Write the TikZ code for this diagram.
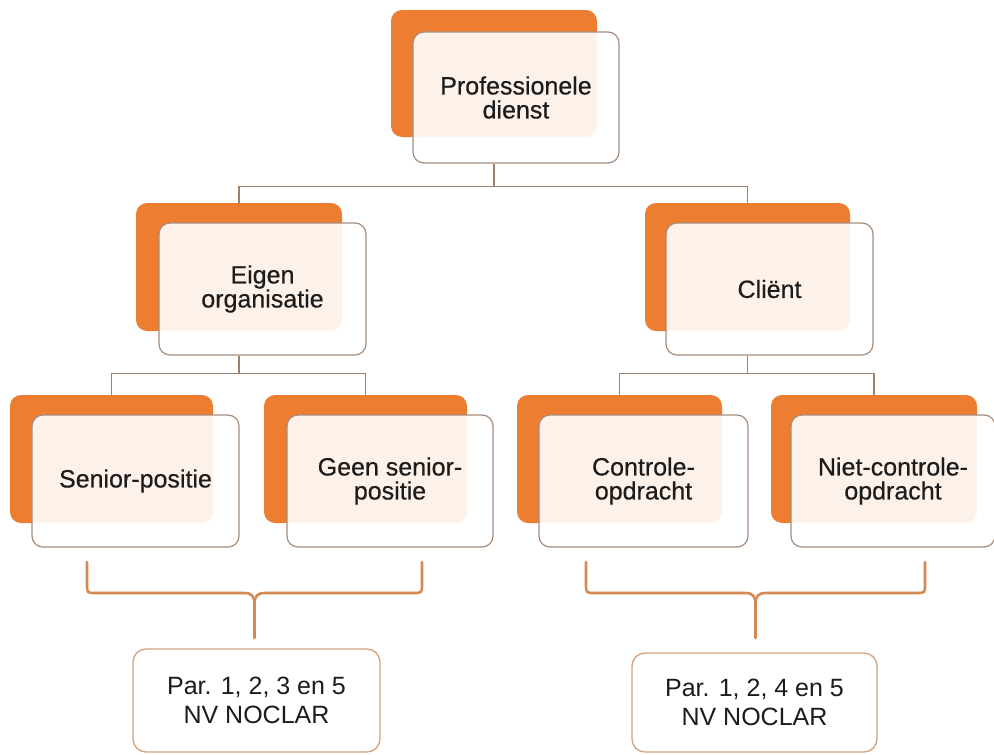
\documentclass[tikz,border=0pt]{standalone}
\usepackage{fontspec}
\setmainfont{Liberation Sans}
\newfontfamily\boxfont[FakeBold=0.5]{Liberation Sans}
\definecolor{org}{HTML}{ED7D31}
\definecolor{wborder}{HTML}{A58C7C}
\definecolor{conncol}{HTML}{9E806C}
\definecolor{botborder}{HTML}{D2A27E}
\definecolor{bracecol}{HTML}{D48A52}
\definecolor{txt}{HTML}{1C1C1C}
\begin{document}
\begin{tikzpicture}[x=1pt,y=-1pt,
  obox/.style={fill=org, rounded corners=11pt, inner sep=0pt, minimum width=206pt, minimum height=128pt},
  wbox/.style={draw=wborder, line width=1.2pt, fill=white, fill opacity=0.9, text opacity=1,
    rounded corners=11pt, inner sep=0pt, minimum width=207pt, minimum height=132pt,
    align=center, text=txt, font=\boxfont\fontsize{25}{24}\selectfont},
  bbox/.style={draw=botborder, line width=1.3pt, fill=white, rounded corners=13pt, inner sep=0pt,
    align=center, text=txt, font=\fontsize{25}{29}\selectfont},
  conn/.style={draw=conncol, line width=1.3pt},
  bracestyle/.style={draw=bracecol, line width=2.6pt, line cap=round}]
\useasboundingbox (0,0) rectangle (994,755);
\fill[white] (0,0) rectangle (994,755);

% level 1
\node[obox, minimum height=127pt] (o1) at (494,73.5) {};
\node[wbox, minimum width=206pt, minimum height=131pt] (w1) at (516,97.5) {Professionele\\dienst};

% level 2
\node[obox] (o2) at (239,267) {};
\node[wbox] (w2) at (262.5,289) {Eigen\\organisatie};
\node[obox, minimum width=205pt] (o3) at (747.5,267) {};
\node[wbox] (w3) at (769.5,289) {Cliënt};

% level 3
\node[obox, minimum width=203pt] (o4) at (111.5,459) {};
\node[wbox] (w4) at (135.5,481) {Senior-positie};
\node[obox, minimum width=203pt] (o5) at (365.5,459) {};
\node[wbox, minimum width=206pt] (w5) at (390,481) {Geen senior-\\positie};
\node[obox, minimum width=205pt] (o6) at (619.5,459) {};
\node[wbox, minimum width=209pt] (w6) at (643.5,481) {Controle-\\opdracht};
\node[obox, minimum width=206pt] (o7) at (874,459) {};
\node[wbox, minimum width=204pt] (w7) at (893,481) {Niet-controle-\\opdracht};

% bottom boxes
\node[bbox, minimum width=247pt, minimum height=103pt] (b1) at (256.5,700.5) {Par. 1, 2, 3 en 5\\NV NOCLAR};
\node[bbox, minimum width=245pt, minimum height=99pt] (b2) at (754.5,702.5) {Par. 1, 2, 4 en 5\\NV NOCLAR};

% connectors
\draw[conn] (o1 |- w1.south) -- ++(0,23) -| (o2.north);
\draw[conn] (o1 |- w1.south) ++(0,23) -| (o3.north);
\draw[conn] (o2 |- w2.south) -- ++(0,18) -| (o4.north);
\draw[conn] (o2 |- w2.south) ++(0,18) -| (o5.north);
\draw[conn] (o3 |- w3.south) -- ++(0,18) -| (o6.north);
\draw[conn] (o3 |- w3.south) ++(0,18) -| (o7.north);

% braces
\coordinate (lt) at (254.5,638);
\coordinate (rt) at (755.5,638);
\draw[bracestyle] (87,562) -- (87,584) .. controls (87,593) .. (96,593) -- (244,593)
  .. controls (252,593) and (254.5,596) .. (254.5,605) -- (lt);
\draw[bracestyle] (422,562) -- (422,584) .. controls (422,593) .. (413,593) -- (265,593)
  .. controls (257,593) and (254.5,596) .. (254.5,605);
\draw[bracestyle] (586,562) -- (586,584) .. controls (586,593) .. (595,593) -- (745,593)
  .. controls (753,593) and (755.5,596) .. (755.5,605) -- (rt);
\draw[bracestyle] (925,562) -- (925,584) .. controls (925,593) .. (916,593) -- (766,593)
  .. controls (758,593) and (755.5,596) .. (755.5,605);
\end{tikzpicture}
\end{document}
